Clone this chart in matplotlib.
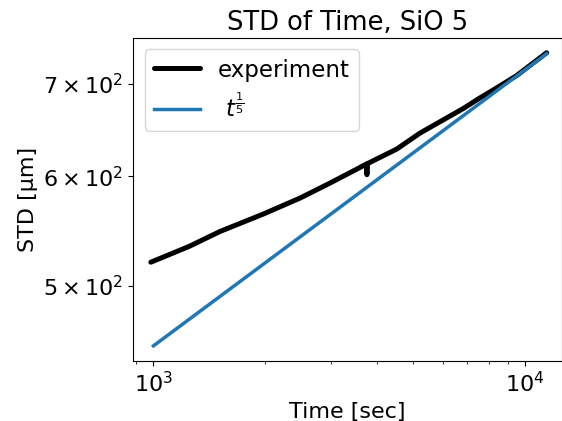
import numpy as np
import matplotlib
matplotlib.use("Agg")
import matplotlib.pyplot as plt

# experiment curve (time [sec], STD [um])
exp_t = [984, 1064, 1250, 1512, 1976, 2481, 2988, 3500, 3740, 3755, 3770, 4516,
         5218, 6157, 6823, 7500, 8393, 9500, 11436]
exp_std = [520, 524.5, 534, 547.4, 563.5, 578.7, 593.4, 606.7, 612.5, 601.7, 613, 628,
           645, 661.5, 672, 683, 695.5, 710, 737.5]

# power-law reference t^(1/5)
fit_t = [1000, 11436]
fit_coef = 113.6
fit_exp = 0.2

fig = plt.figure(figsize=(5.62, 4.21), dpi=100)
ax = fig.add_axes([0.237, 0.142, 0.763, 0.768])

ft = np.array(fit_t, dtype=float)
ax.plot(exp_t, exp_std, color="black", lw=3.6, label="experiment",
        solid_capstyle="round", solid_joinstyle="round")
ax.plot(ft, fit_coef * ft ** fit_exp, color="#1f77b4", lw=2.5, label=r" $t^{\frac{1}{5}}$")

ax.set_xscale("log")
ax.set_yscale("log")
ax.set_xlim(882, 12578)
ax.set_ylim(440.8, 756)
ax.set_yticks([500, 600, 700])
ax.set_yticklabels([r"$5\times10^{2}$", r"$6\times10^{2}$", r"$7\times10^{2}$"])
ax.yaxis.set_minor_formatter(matplotlib.ticker.NullFormatter())
ax.tick_params(labelsize=16)
ax.set_xlabel("Time [sec]", fontsize=16)
ax.set_ylabel("STD [µm]", fontsize=16)
ax.set_title("STD of Time, SiO 5", fontsize=18.5)
ax.legend(fontsize=16.5, loc="upper left")

fig.savefig("out.png", dpi=100)
